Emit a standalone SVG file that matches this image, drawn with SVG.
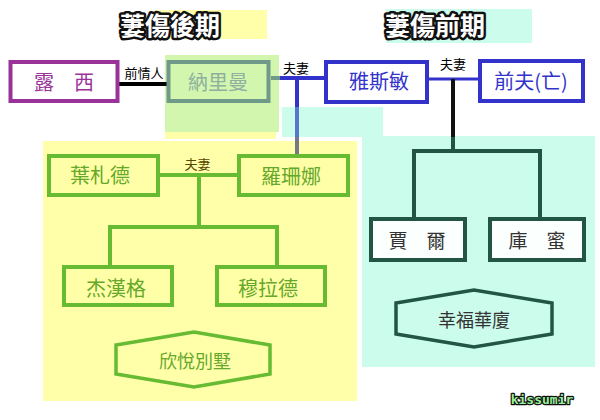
<svg xmlns="http://www.w3.org/2000/svg" width="600" height="420" viewBox="0 0 600 420">
<style>
.cjk{font-family:"Noto Sans CJK TC","Noto Sans CJK SC",sans-serif;text-anchor:middle;dominant-baseline:central}
.title{font-size:25px;font-weight:bold;fill:#fff;stroke:#111;stroke-width:5;stroke-linejoin:round;paint-order:stroke}
.nm{font-size:20px}
.lbl{font-size:13px;fill:#000}
.gnode{fill:#ffffa8;stroke:#66bb33;stroke-width:4}
.gtxt{fill:#66a82a;font-size:20px}
.dnode{fill:#fbfffd;stroke:#225544;stroke-width:4}
.dtxt{fill:#333;font-size:19px}
.bnode{fill:#fff;stroke:#3333cc;stroke-width:4}
.btxt{fill:#3333cc}
.gl{stroke:#66bb33;stroke-width:4;fill:none}
.dl{stroke:#225544;stroke-width:4;fill:none}
</style>
<rect width="600" height="420" fill="#fff"/>
<g id="backgrounds">
<rect x="155" y="10" width="112" height="29" fill="#ffffaa"/>
<rect x="386" y="9" width="146" height="34" fill="#ccfcec"/>
<rect x="165" y="55" width="114" height="77" fill="#d2f6ae"/>
<rect x="165" y="132" width="111" height="7" fill="#ffffaa"/>
<rect x="282" y="107" width="101" height="30" fill="#ccfcec"/>
<rect x="362" y="136" width="233" height="231" fill="#ccfcec"/>
<rect x="43" y="141" width="314" height="260" fill="#ffffaa"/>
</g>
<g id="titles">
<text class="cjk title" x="170" y="24">萋傷後期</text>
<text class="cjk title" x="435" y="24">萋傷前期</text>
</g>
<g id="connectors">
<line x1="119" y1="84" x2="167" y2="84" stroke="#000" stroke-width="4"/>
<line x1="271" y1="78" x2="280" y2="78" stroke="#6f9a8a" stroke-width="4"/>
<line x1="280" y1="78" x2="325" y2="78" stroke="#3333cc" stroke-width="4"/>
<line x1="297" y1="78" x2="297" y2="107" stroke="#3333cc" stroke-width="4"/>
<line x1="297" y1="107" x2="297" y2="137" stroke="#5577cc" stroke-width="4"/>
<line x1="297" y1="137" x2="297" y2="154" stroke="#777788" stroke-width="4"/>
<line x1="429" y1="79" x2="479" y2="79" stroke="#3333cc" stroke-width="3"/>
<line x1="453" y1="79" x2="453" y2="137" stroke="#111" stroke-width="4"/>
<path class="dl" d="M453 137V151M414 218V151H540V218"/>
<path class="gl" d="M160 175H237M199 175V227M110 265V227H277V265"/>
<text class="cjk lbl" x="144" y="72">前情人</text>
<text class="cjk lbl" x="296" y="67">夫妻</text>
<text class="cjk lbl" x="453" y="63">夫妻</text>
<text class="cjk lbl" x="197.5" y="163" fill="#554400" style="fill:#554400">夫妻</text>
</g>
<g id="lucy">
<rect x="10.5" y="62" width="107" height="39" fill="#fff" stroke="#993399" stroke-width="4"/>
<text class="cjk nm" x="64" y="81" fill="#993399">露　西</text>
</g>
<g id="nariman">
<rect x="168.5" y="62" width="100" height="39" fill="#d2f6ae" stroke="#6f9a8a" stroke-width="4"/>
<text class="cjk nm" x="218" y="81.5" fill="#8fb0a0">納里曼</text>
</g>
<g id="yasmin">
<rect class="bnode" x="326" y="62" width="101" height="40"/>
<text class="cjk nm btxt" x="379" y="80.5">雅斯敏</text>
</g>
<g id="exhusband">
<rect class="bnode" x="480" y="61" width="103" height="40"/>
<text class="cjk nm btxt" x="531" y="80">前夫(亡)</text>
</g>
<g id="jia">
<rect class="dnode" x="371" y="219" width="94" height="41"/>
<text class="cjk dtxt" x="417" y="239.5">賈　爾</text>
</g>
<g id="kumi">
<rect class="dnode" x="490" y="219" width="94" height="41"/>
<text class="cjk dtxt" x="537" y="239.5">庫　蜜</text>
</g>
<g id="happy-mansion">
<polygon points="396,303 474,290 552,303 552,334 474,347 396,334" fill="#ccfcec" stroke="#225544" stroke-width="3.5"/>
<text class="cjk dtxt" x="474" y="318.5" style="font-size:18px">幸福華廈</text>
</g>
<g id="yezad">
<rect class="gnode" x="49" y="156" width="109" height="39"/>
<text class="cjk gtxt" x="100" y="174.5">葉札德</text>
</g>
<g id="roshanna">
<rect class="gnode" x="239" y="156" width="109" height="39"/>
<text class="cjk gtxt" x="291" y="175">羅珊娜</text>
</g>
<g id="jehangir">
<rect class="gnode" x="64" y="267" width="108" height="38"/>
<text class="cjk gtxt" x="116" y="287">杰漢格</text>
</g>
<g id="murad">
<rect class="gnode" x="217" y="267" width="108" height="38"/>
<text class="cjk gtxt" x="268" y="287">穆拉德</text>
</g>
<g id="villa">
<polygon points="116,345 194,332 270,345 270,374 194,387 116,374" fill="#ffffaa" stroke="#66bb33" stroke-width="3.5"/>
<text class="cjk gtxt" x="195" y="360" style="font-size:18px">欣悅別墅</text>
</g>
<text x="542" y="404" text-anchor="middle" font-family="DejaVu Sans Mono,monospace" font-weight="bold" font-size="13" fill="#99ee99" stroke="#111" stroke-width="2.5" stroke-linejoin="round" paint-order="stroke">kissumir</text>
</svg>
